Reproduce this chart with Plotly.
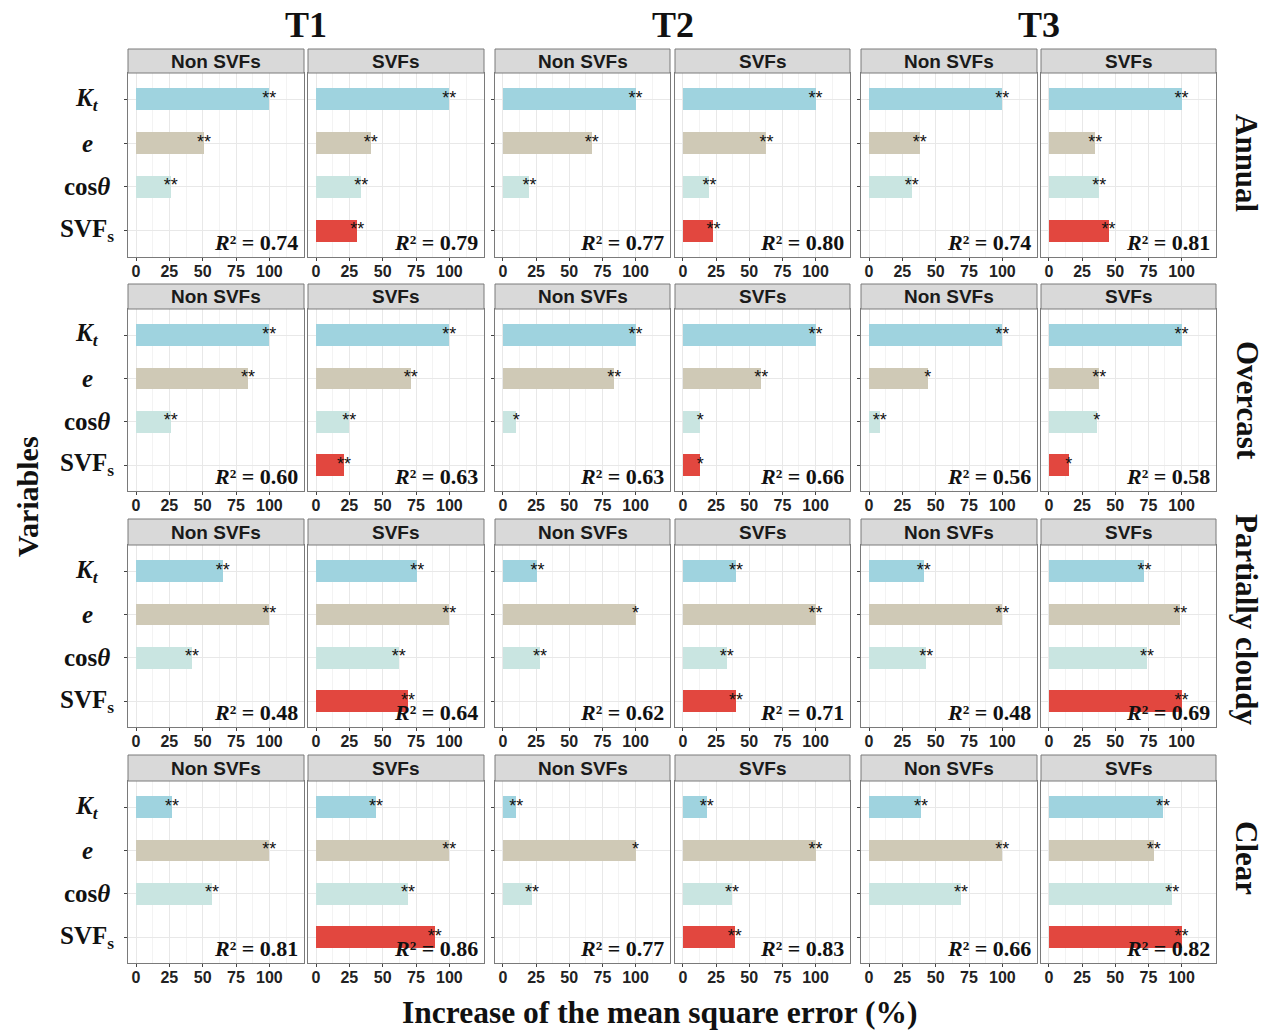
import plotly.graph_objects as go

# ---- data -------------------------------------------------------------
conditions = ["Annual", "Overcast", "Partially cloudy", "Clear"]
periods = ["T1", "T2", "T3"]
models = ["Non SVFs", "SVFs"]
variables = ["Kt", "e", "cos", "SVFs"]
var_labels = [
    "<b><i>K<sub>t</sub></i></b>",
    "<b><i>e</i></b>",
    "<b>cos<i>θ</i></b>",
    "<b>SVF<sub>s</sub></b>",
]
x_ticks = [0, 25, 50, 75, 100]

# %IncMSE per panel, ordered T1 Non SVFs, T1 SVFs, T2 Non SVFs, T2 SVFs, T3 Non SVFs, T3 SVFs
annual_vals = [[100, 51, 26], [100, 41, 34, 31],
               [100, 67, 20], [100, 63, 20, 23],
               [100, 38, 32], [100, 35, 38, 45]]
overcast_vals = [[100, 84, 26], [100, 71, 25, 21],
                 [100, 84, 10], [100, 59, 13, 13],
                 [100, 44, 8], [100, 38, 36, 15]]
partly_vals = [[65, 100, 42], [76, 100, 62, 69],
               [26, 100, 28], [40, 100, 33, 40],
               [41, 100, 43], [72, 99, 74, 100]]
clear_vals = [[27, 100, 57], [45, 100, 69, 89],
              [10, 100, 22], [18, 100, 37, 39],
              [39, 100, 69], [86, 79, 93, 100]]

annual_sig = [["**", "**", "**"], ["**", "**", "**", "**"],
              ["**", "**", "**"], ["**", "**", "**", "**"],
              ["**", "**", "**"], ["**", "**", "**", "**"]]
overcast_sig = [["**", "**", "**"], ["**", "**", "**", "**"],
                ["**", "**", "*"], ["**", "**", "*", "*"],
                ["**", "*", "**"], ["**", "**", "*", "*"]]
partly_sig = [["**", "**", "**"], ["**", "**", "**", "**"],
              ["**", "*", "**"], ["**", "**", "**", "**"],
              ["**", "**", "**"], ["**", "**", "**", "**"]]
clear_sig = [["**", "**", "**"], ["**", "**", "**", "**"],
             ["**", "*", "**"], ["**", "**", "**", "**"],
             ["**", "**", "**"], ["**", "**", "**", "**"]]

r2_annual = [0.74, 0.79, 0.77, 0.80, 0.74, 0.81]
r2_overcast = [0.60, 0.63, 0.63, 0.66, 0.56, 0.58]
r2_partly = [0.48, 0.64, 0.62, 0.71, 0.48, 0.69]
r2_clear = [0.81, 0.86, 0.77, 0.83, 0.66, 0.82]

all_vals = [annual_vals, overcast_vals, partly_vals, clear_vals]
all_sig = [annual_sig, overcast_sig, partly_sig, clear_sig]
all_r2 = [r2_annual, r2_overcast, r2_partly, r2_clear]

bar_colors = ["#9FD3DF", "#CFC9B6", "#C9E5E1", "#E2473F"]

# ---- layout geometry (pixels) ----------------------------------------
W, H = 1272, 1031
col_px = [(128, 304), (308, 484), (495, 670), (675, 850), (861, 1037), (1041, 1216)]
strip_top = [49, 284, 519, 755]
panel_top = [73, 309, 545, 781]
panel_bot = [257, 491, 727, 963]

SANS = "Liberation Sans"
SERIF = "Liberation Serif"
BORDER = "#7a7a7a"

fig = go.Figure()
layout = {}
shapes = []
annotations = []

for r in range(4):
    for c in range(6):
        n = r * 6 + c + 1
        xa = "x" if n == 1 else f"x{n}"
        ya = "y" if n == 1 else f"y{n}"
        xkey = "xaxis" if n == 1 else f"xaxis{n}"
        ykey = "yaxis" if n == 1 else f"yaxis{n}"
        x0, x1 = col_px[c]
        vals = all_vals[r][c]
        sig = all_sig[r][c]
        cats = variables[:len(vals)]

        fig.add_trace(go.Bar(
            x=vals, y=cats, orientation="h", width=0.5,
            marker=dict(color=bar_colors[:len(vals)], line=dict(width=0)),
            xaxis=xa, yaxis=ya, showlegend=False, hoverinfo="skip",
        ))
        fig.add_trace(go.Scatter(
            x=vals, y=cats, mode="text", text=sig,
            textposition="middle center",
            textfont=dict(family=SANS, size=18, color="#111"),
            xaxis=xa, yaxis=ya, showlegend=False, hoverinfo="skip",
            cliponaxis=False,
        ))

        layout[xkey] = dict(
            domain=[x0 / W, x1 / W], anchor=ya, range=[-6, 126],
            tickvals=x_ticks, ticks="outside", ticklen=3, tickcolor="#444",
            ticklabelstandoff=-3,
            tickfont=dict(family=SANS, size=16, color="#222", weight="bold"),
            showgrid=True, gridcolor="#E8E8E8", gridwidth=1,
            minor=dict(tickvals=[12.5, 37.5, 62.5, 87.5, 112.5], showgrid=True,
                       gridcolor="#F3F3F3", gridwidth=1, ticks=""),
            zeroline=False, showline=True, mirror=True,
            linecolor=BORDER, linewidth=1, fixedrange=True,
        )
        layout[ykey] = dict(
            domain=[1 - panel_bot[r] / H, 1 - panel_top[r] / H], anchor=xa,
            type="category", categoryorder="array", categoryarray=variables,
            range=[3.6, -0.6], tickvals=variables,
            showticklabels=False,
            ticks="outside" if c in (0, 2, 4) else "", ticklen=3, tickcolor="#444",
            showgrid=True, gridcolor="#E8E8E8", gridwidth=1,
            zeroline=False, showline=True, mirror=True,
            linecolor=BORDER, linewidth=1, fixedrange=True,
        )

        # variable names, centred in the left margin
        if c == 0:
            for v, lab in zip(variables, var_labels):
                annotations.append(dict(
                    text=lab, xref="paper", yref=ya, x=87 / W, y=v,
                    xanchor="center", yanchor="middle", showarrow=False,
                    font=dict(family=SERIF, size=25, color="#111"),
                ))

        # facet strip
        shapes.append(dict(
            type="rect", xref="paper", yref="paper",
            x0=x0 / W, x1=x1 / W,
            y0=1 - panel_top[r] / H, y1=1 - strip_top[r] / H,
            fillcolor="#D9D9D9", line=dict(color=BORDER, width=1), layer="above",
        ))
        annotations.append(dict(
            text=models[c % 2], xref="paper", yref="paper",
            x=(x0 + x1) / 2 / W, y=1 - (strip_top[r] + panel_top[r]) / 2 / H,
            xanchor="center", yanchor="middle", showarrow=False,
            font=dict(family=SANS, size=19, color="#1a1a1a", weight="bold"),
        ))
        # model fit label
        annotations.append(dict(
            text=f"<i>R</i>² = {all_r2[r][c]:.2f}",
            xref=f"{xa} domain", yref=f"{ya} domain",
            x=0.975, y=0.0, xanchor="right", yanchor="bottom", showarrow=False,
            font=dict(family=SERIF, size=22, color="#111", weight="bold"),
        ))

# period titles
for i, p in enumerate(periods):
    left = col_px[2 * i][0]
    right = col_px[2 * i + 1][1]
    annotations.append(dict(
        text=p, xref="paper", yref="paper",
        x=(left + right) / 2 / W, y=1 - 25 / H,
        xanchor="center", yanchor="middle", showarrow=False,
        font=dict(family=SERIF, size=36, color="#111", weight="bold"),
    ))

# sky-condition labels on the right
row_centers = [163, 400, 619, 858]
for r, cond in enumerate(conditions):
    annotations.append(dict(
        text=cond, xref="paper", yref="paper",
        x=1247 / W, y=1 - row_centers[r] / H, textangle=90,
        xanchor="center", yanchor="middle", showarrow=False,
        font=dict(family=SERIF, size=31, color="#111", weight="bold"),
    ))

# axis titles
annotations.append(dict(
    text="Variables", xref="paper", yref="paper",
    x=28 / W, y=1 - 497 / H, textangle=-90,
    xanchor="center", yanchor="middle", showarrow=False,
    font=dict(family=SERIF, size=30, color="#111", weight="bold"),
))
annotations.append(dict(
    text="Increase of the mean square error (%)", xref="paper", yref="paper",
    x=660 / W, y=1 - 1012 / H,
    xanchor="center", yanchor="middle", showarrow=False,
    font=dict(family=SERIF, size=31.5, color="#111", weight="bold"),
))

fig.update_layout(
    width=W, height=H, margin=dict(l=0, r=0, t=0, b=0),
    paper_bgcolor="white", plot_bgcolor="white",
    bargap=0, shapes=shapes, annotations=annotations,
    **layout,
)

fig.write_html("out.html")
